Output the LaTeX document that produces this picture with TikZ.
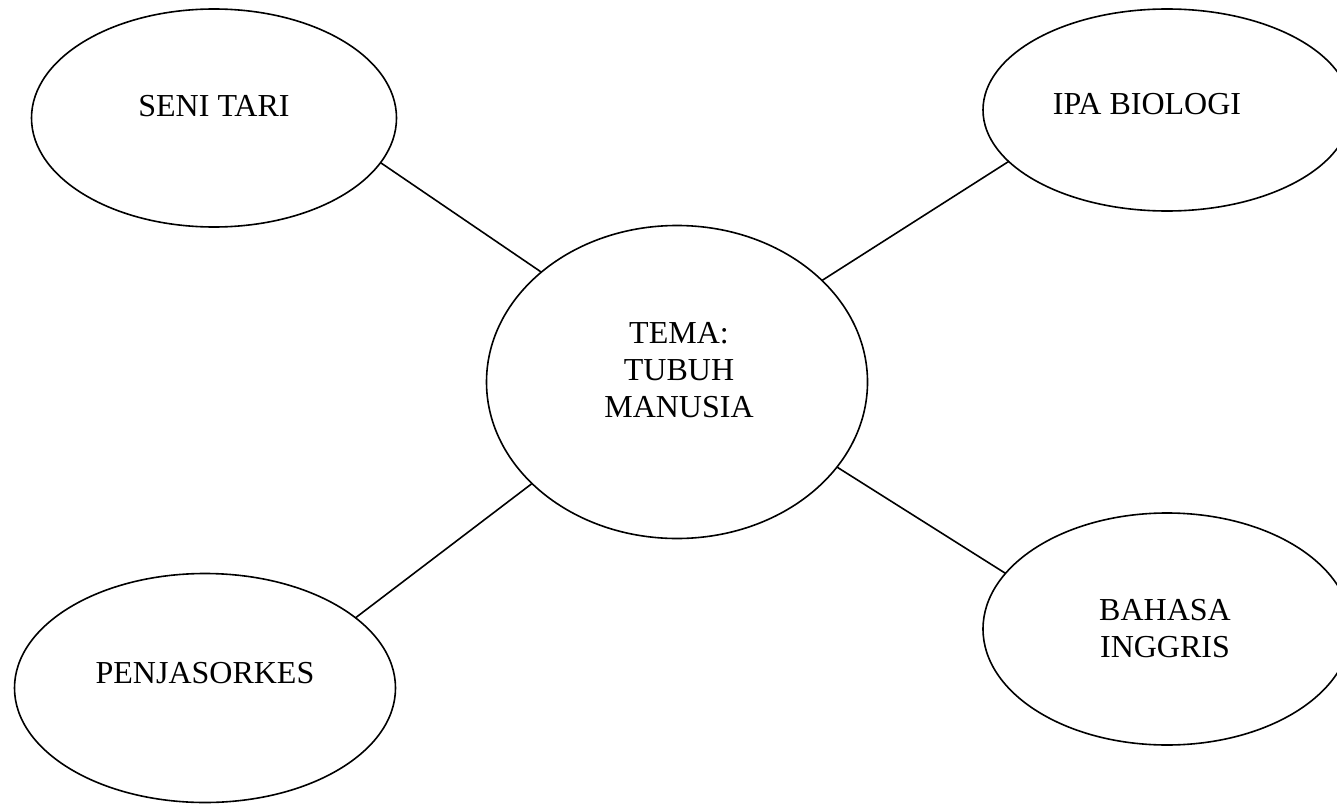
\documentclass[tikz,border=0pt]{standalone}
\usepackage{fontspec}
\setmainfont{Liberation Serif}
\usetikzlibrary{shapes.geometric}
\begin{document}
\begin{tikzpicture}[x=1pt,y=-1pt,
  bubble/.style={ellipse,draw,line width=1.6pt,inner sep=0pt,outer sep=0pt},
  lbl/.style={font=\fontsize{32}{37}\selectfont,inner sep=0pt,align=center},
  link/.style={line width=1.6pt}]
\useasboundingbox (0,0) rectangle (1337,805);
\fill[white] (0,0) rectangle (1337,805);
\node[bubble,minimum width=365pt,minimum height=218pt] (seni) at (214,118) {};
\node[bubble,minimum width=368pt,minimum height=202pt] (ipa) at (1167,110) {};
\node[bubble,minimum width=381pt,minimum height=313pt] (tema) at (677,382) {};
\node[bubble,minimum width=381pt,minimum height=229pt] (penj) at (205,688) {};
\node[bubble,minimum width=368pt,minimum height=232pt] (bhs) at (1167,629) {};
\node[lbl,anchor=base] (tseni) at (214,117) {SENI TARI};
\node[lbl,anchor=base] (tipa) at (1147,115) {IPA BIOLOGI};
\node[lbl] (ttema) at (679,370) {TEMA:\\TUBUH\\MANUSIA};
\node[lbl,anchor=base] (tpenj) at (205,683) {PENJASORKES};
\node[lbl] (tbhs) at (1165,629) {BAHASA\\INGGRIS};
\draw[link] (seni.-15.5) -- (tema.141.4);
\draw[link] (ipa.-162.5) -- (tema.35.5);
\draw[link] (penj.25.8) -- (tema.-145.3);
\draw[link] (bhs.161.9) -- (tema.-28);
\end{tikzpicture}
\end{document}
